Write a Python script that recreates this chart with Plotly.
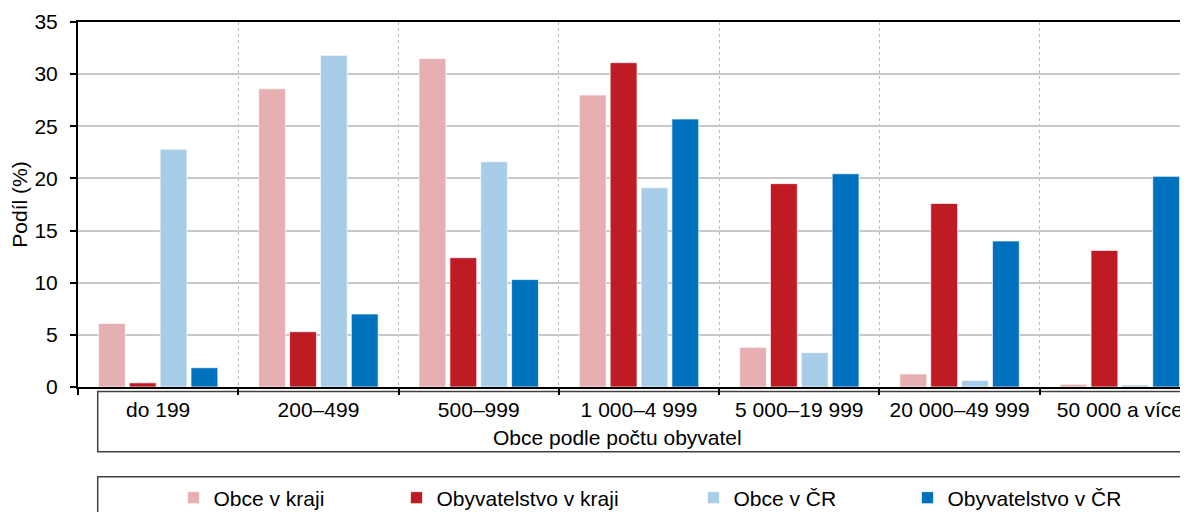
import plotly.graph_objects as go

categories = ["do 199", "200–499", "500–999", "1 000–4 999", "5 000–19 999", "20 000–49 999", "50 000 a více"]
obce_kraj = [6.1, 28.6, 31.5, 28.0, 3.8, 1.25, 0.26]
obyv_kraj = [0.4, 5.3, 12.4, 31.1, 19.5, 17.6, 13.1]
obce_cr = [22.8, 31.8, 21.6, 19.1, 3.3, 0.64, 0.2]
obyv_cr = [1.85, 7.0, 10.3, 25.7, 20.45, 14.0, 20.2]

series_names = ["Obce v kraji", "Obyvatelstvo v kraji", "Obce v ČR", "Obyvatelstvo v ČR"]
series_values = [obce_kraj, obyv_kraj, obce_cr, obyv_cr]
series_colors = ["#E6AFB2", "#BE1B24", "#A8CDE8", "#0071BC"]
legend_ids = ["legend", "legend2", "legend3", "legend4"]
y_ticks = [0, 5, 10, 15, 20, 25, 30, 35]

FONT = "Liberation Sans, Arial, sans-serif"
FS = 21
OFF = 8  # page body margin
W, H = 1188 - OFF, 512 - OFF
ML, MR, MT = 78 - OFF, 0, 22 - OFF
MB = H - (387 - OFF)
PW = W - ML - MR
PH = H - MT - MB


def px_x(px):
    return (px - OFF - ML) / PW


def px_y(py):
    return (H - MB - (py - OFF)) / PH


fig = go.Figure()
for name, vals, col, lg in zip(series_names, series_values, series_colors, legend_ids):
    fig.add_trace(go.Bar(
        x=categories, y=vals, name=name, legend=lg, showlegend=True,
        marker=dict(color=col, line=dict(color="rgba(255,255,255,0.7)", width=1)),
    ))

legend_centers = [193.5, 416.5, 713.5, 927.5]
legend_layout = {}
for lg, cx in zip(legend_ids, legend_centers):
    legend_layout[lg] = dict(
        x=px_x(cx - 20), xanchor="left", y=px_y(498), yanchor="middle",
        orientation="h", font=dict(family=FONT, size=FS, color="#000000"),
        bgcolor="rgba(0,0,0,0)", borderwidth=0, visible=True,
    )

fig.update_layout(
    width=W, height=H,
    margin=dict(l=ML, r=MR, t=MT, b=MB, autoexpand=False),
    paper_bgcolor="white", plot_bgcolor="white",
    barmode="group", bargap=0.23, bargroupgap=0.13,
    font=dict(family=FONT, size=FS, color="#000000"),
    showlegend=True,
    **legend_layout,
)

fig.update_xaxes(
    type="category", range=[-0.5, 6.425],
    tickson="boundaries", ticks="outside", ticklen=6, tickwidth=2, tickcolor="#000000",
    showline=True, linecolor="#000000", linewidth=2, mirror=True,
    showgrid=True, gridcolor="#BDBDBD", gridwidth=1, griddash="dot",
    tickfont=dict(family=FONT, size=FS, color="#000000"),
    ticklabelstandoff=3,
)
fig.update_yaxes(
    range=[0, 35], tickvals=y_ticks,
    ticks="outside", ticklen=6, tickwidth=2, tickcolor="#000000",
    showline=True, linecolor="#000000", linewidth=2,
    showgrid=True, gridcolor="#C8C8C8", gridwidth=1.5,
    zeroline=False,
    tickfont=dict(family=FONT, size=FS, color="#000000"),
    ticklabelstandoff=8,
    title=dict(text="Podíl (%)", font=dict(family=FONT, size=FS, color="#000000"), standoff=8),
)

fig.add_annotation(
    text="Obce podle počtu obyvatel", xref="paper", yref="paper",
    x=px_x(617), y=px_y(437), xanchor="center", yanchor="middle", showarrow=False,
    font=dict(family=FONT, size=FS, color="#000000"),
)

fig.add_shape(type="rect", xref="paper", yref="paper",
              x0=px_x(97.7), x1=px_x(1210), y0=px_y(451.7), y1=px_y(391.5),
              line=dict(color="#404040", width=1.5), fillcolor="rgba(0,0,0,0)", layer="below")
fig.add_shape(type="rect", xref="paper", yref="paper",
              x0=px_x(97.7), x1=px_x(1210), y0=px_y(560), y1=px_y(476.7),
              line=dict(color="#404040", width=1.5), fillcolor="rgba(0,0,0,0)", layer="below")

fig.write_html("out.html")
